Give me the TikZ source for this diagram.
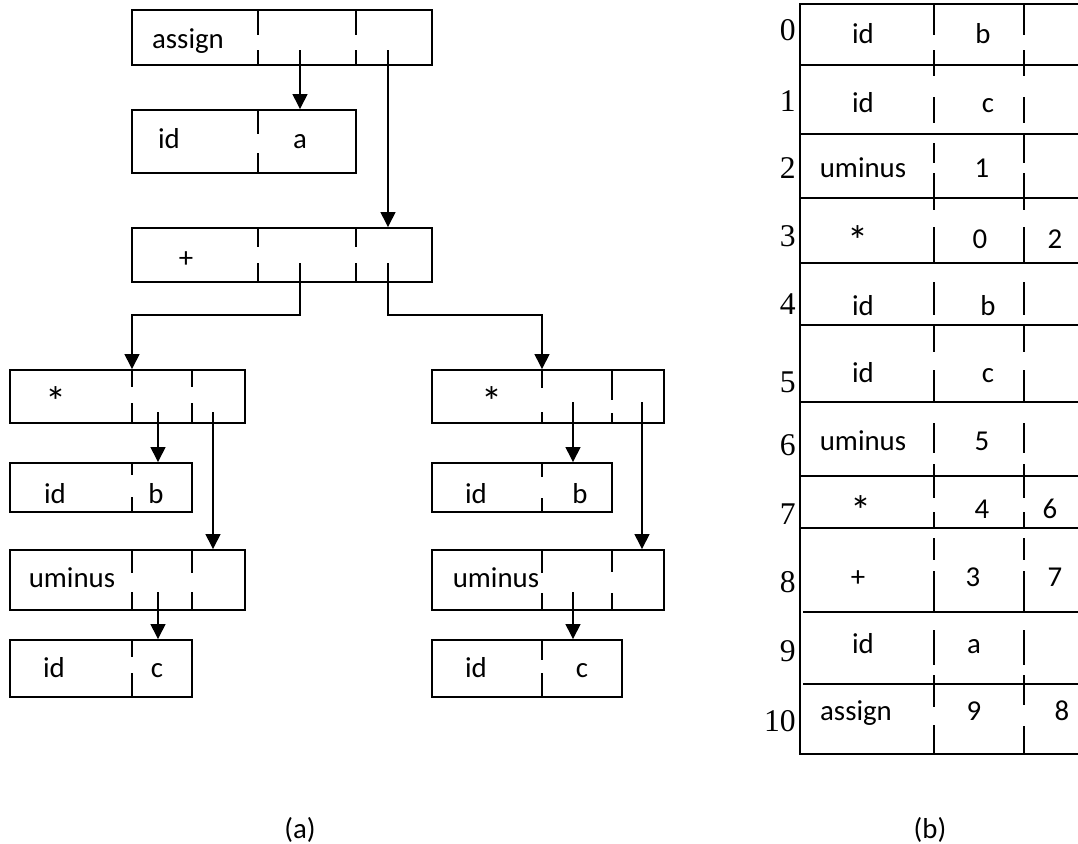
\documentclass[tikz,border=0pt]{standalone}
\usepackage{fontspec}
\setmainfont{Carlito}
\newfontfamily\numfont{Liberation Serif}
\usetikzlibrary{arrows.meta,fit}

\tikzset{
  box/.style={draw,line width=1.1pt,inner sep=0pt},
  bar/.style={line width=1.1pt},
  ptr/.style={line width=0.8pt,-{Triangle[width=8.5pt,length=8.5pt]}},
  txt/.style={anchor=base,inner sep=0pt,font=\fontsize{16.4}{20}\selectfont},
  star/.style={anchor=base,inner sep=0pt,font=\fontsize{24}{28}\selectfont},
  num/.style={anchor=base east,inner sep=0pt,font=\numfont\fontsize{18}{20}\selectfont}
}
% #1 name, (#2,#3) top left, (#4,#5) bottom right
\newcommand{\objbox}[5]{%
  \coordinate (#1-nw) at (#2,#3); \coordinate (#1-se) at (#4,#5);
  \node[box,fit=(#1-nw)(#1-se)] (#1) {};}
% divider at x=#1, pieces #2--#3 and #4--#5
\newcommand{\gapbar}[5]{\draw[bar] (#1,#2) -- (#1,#3) (#1,#4) -- (#1,#5);}

\begin{document}
\begin{tikzpicture}[x=0.02cm,y=-0.02cm]
\useasboundingbox (0,0) rectangle (1078,843);

% (a)
\objbox{assign}{132}{10}{432}{65}
\gapbar{258}{10}{35}{50}{65} \gapbar{356}{10}{35}{50}{65}
\node[txt] (assign-t) at (188,48) {assign};

\objbox{ida}{132}{110}{356}{173}
\gapbar{258}{110}{134}{153}{173}
\node[txt] (ida-t) at (169,148) {id};
\node[txt] (ida-v) at (300,148) {a};

\objbox{plus}{132}{228}{432}{282}
\gapbar{258}{228}{247}{263}{282} \gapbar{356}{228}{247}{263}{282}
\node[txt] (plus-t) at (186,267) {+};

\objbox{mulL}{10}{370}{245}{423}
\gapbar{132}{370}{387}{403}{423} \gapbar{192}{370}{387}{403}{423}
\node[star] (mulL-t) at (56,416) {*};

\objbox{idbL}{10}{463}{192}{512}
\gapbar{132}{463}{475}{497}{512}
\node[txt] (idbL-t) at (55,503) {id};
\node[txt] (idbL-v) at (156,503) {b};

\objbox{negL}{10}{550}{245}{610}
\gapbar{132}{550}{573}{592}{610} \gapbar{192}{550}{573}{592}{610}
\node[txt] (negL-t) at (72,587) {uminus};

\objbox{idcL}{10}{640}{192}{697}
\gapbar{132}{640}{657}{673}{697}
\node[txt] (idcL-t) at (54,677) {id};
\node[txt] (idcL-v) at (157,677) {c};

\objbox{mulR}{432}{370}{664}{423}
\gapbar{542}{370}{388}{412}{423} \gapbar{612}{370}{400}{413}{423}
\node[star] (mulR-t) at (492,416) {*};

\objbox{idbR}{432}{463}{612}{512}
\gapbar{542}{463}{477}{498}{512}
\node[txt] (idbR-t) at (476,503) {id};
\node[txt] (idbR-v) at (580,503) {b};

\objbox{negR}{432}{550}{664}{610}
\gapbar{542}{550}{573}{593}{610} \gapbar{612}{550}{572}{593}{610}
\node[txt] (negR-t) at (496,587) {uminus};

\objbox{idcR}{432}{640}{622}{697}
\gapbar{542}{640}{660}{673}{697}
\node[txt] (idcR-t) at (476,677) {id};
\node[txt] (idcR-v) at (582,677) {c};

\coordinate (assign-1) at (300,50); \coordinate (assign-2) at (388,50);
\coordinate (plus-1) at (300,263);  \coordinate (plus-2) at (388,263);
\coordinate (mulL-1) at (158,412);  \coordinate (mulL-2) at (213,412);
\coordinate (negL-1) at (158,592);
\coordinate (mulR-1) at (573,402);  \coordinate (mulR-2) at (642,402);
\coordinate (negR-1) at (573,592);

\draw[ptr] (assign-1) -- (assign-1 |- ida.north);
\draw[ptr] (assign-2) -- (assign-2 |- plus.north);
\draw[ptr] (plus-1) -- (plus-1 |- 0,315) -| (mulL.north -| 132,0);
\draw[ptr] (plus-2) -- (plus-2 |- 0,315) -| (mulR.north -| 542,0);
\draw[ptr] (mulL-1) -- (mulL-1 |- idbL.north);
\draw[ptr] (mulL-2) -- (mulL-2 |- negL.north);
\draw[ptr] (negL-1) -- (negL-1 |- idcL.north);
\draw[ptr] (mulR-1) -- (mulR-1 |- idbR.north);
\draw[ptr] (mulR-2) -- (mulR-2 |- negR.north);
\draw[ptr] (negR-1) -- (negR-1 |- idcR.north);

\node[txt] (cap-a) at (300,838) {(a)};

% (b)
\draw[bar] (1078,4) -- (800,4) -- (800,754) -- (1078,754);
\foreach \y in {65,134,198,263,325,402,476,528} \draw[bar] (800,\y) -- (1078,\y);
\foreach \y in {612,684} \draw[bar] (803,\y) -- (1078,\y);
\foreach \a/\b in {4/35,50/76,97/123,143/163,173/210,227/263,282/315,326/352,370/402,
                   423/453,464/498,512/528,538/560,571/612,630/665,675/707,725/754}
  \draw[bar] (934,\a) -- (934,\b);
\foreach \a/\b in {4/35,50/76,97/123,134/163,173/210,227/263,282/315,326/352,370/402,
                   423/453,464/498,512/528,538/560,571/612,630/665,675/705,726/754}
  \draw[bar] (1024,\a) -- (1024,\b);

\foreach \n/\y in {0/40,1/111,2/178,3/246,4/314,5/392,6/455,7/524,8/592,9/661,10/731}
  \node[num] (row-\n) at (796,\y) {\n};

\foreach \n/\y/\op/\xa/\ra/\xb/\rb/\xc in {
    0/43/id/863/b/983//1055, 1/112/id/863/c/988//1055, 2/177/uminus/863/1/982//1055,
    4/315/id/863/b/988//1055, 5/382/id/863/c/988//1055, 6/450/uminus/863/5/982//1055,
    8/586/+/858/3/973/7/1055, 9/653/id/863/a/974//1055, 10/720/assign/856/9/974/8/1062}{
  \node[txt] (op-\n) at (\xa,\y) {\op};
  \node[txt] (ra-\n) at (\xb,\y) {\ra};
  \node[txt] (rb-\n) at (\xc,\y) {\rb};
}
\foreach \n/\y/\xa/\ra/\xb/\rb/\xc in {3/248/858/0/980/2/1055, 7/518/861/4/982/6/1050}{
  \node[star] (op-\n) at (\xa,\y+7) {*};
  \node[txt] (ra-\n) at (\xb,\y) {\ra};
  \node[txt] (rb-\n) at (\xc,\y) {\rb};
}

\node[txt] (cap-b) at (930,838) {(b)};
\end{tikzpicture}
\end{document}
